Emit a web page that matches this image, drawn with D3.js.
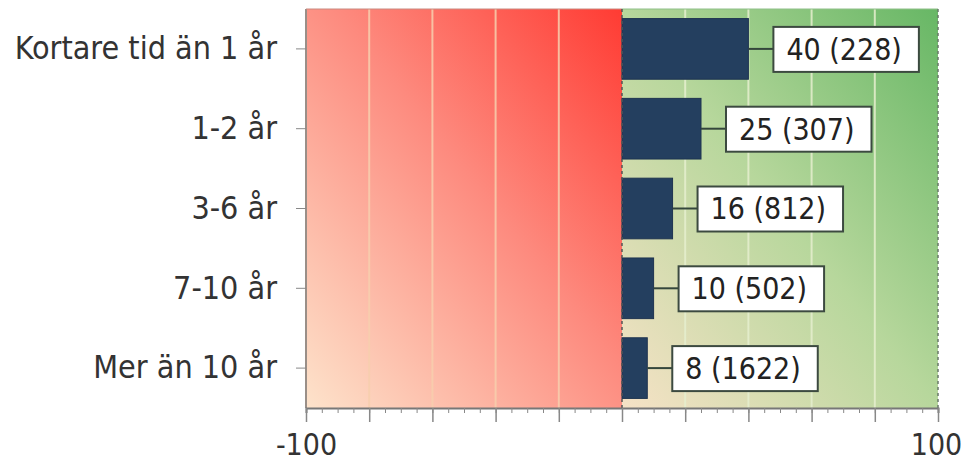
<!DOCTYPE html>
<html>
<head>
<meta charset="utf-8">
<script src="https://cdn.jsdelivr.net/npm/d3@7"></script>
<style>
body { margin: 0; background: #fff; }
svg { font-family: "DejaVu Sans Condensed", "DejaVu Sans", sans-serif; }
</style>
</head>
<body>
<div id="chart"></div>
<script>
//
// horizontal bar chart with red/green backdrop
//

var categories = ["Kortare tid än 1 år", "1-2 år", "3-6 år", "7-10 år", "Mer än 10 år"];
var values = [40, 25, 16, 10, 8];
var counts = [228, 307, 812, 502, 1622];
var xTickLabels = [-100, 100];

var width = 966;
var height = 463;
var marginLeft = 306;
var marginRight = 28;
var marginTop = 9;
var marginBottom = 55;

var svg = d3.select("#chart")
    .append("svg")
    .attr("width", width)
    .attr("height", height);

var x = d3.scaleLinear().domain([-100, 100]).range([marginLeft, width - marginRight]);
var y = d3.scaleBand().domain(categories).range([marginTop, height - marginBottom]).paddingInner(0.24).paddingOuter(0.12);
var yBand = d3.scaleBand().domain(categories).range([marginTop, height - marginBottom]);

var plotTop = marginTop, plotBottom = height - marginBottom;

var defs = svg.append("defs");
var redGrad = defs.append("linearGradient").attr("id", "redGrad")
    .attr("x1", "0%").attr("y1", "100%").attr("x2", "100%").attr("y2", "0%");
redGrad.append("stop").attr("offset", "0%").attr("stop-color", "#fde3cb");
redGrad.append("stop").attr("offset", "55%").attr("stop-color", "#fd8a7e");
redGrad.append("stop").attr("offset", "100%").attr("stop-color", "#ff3b33");

var greenGrad = defs.append("linearGradient").attr("id", "greenGrad")
    .attr("x1", "0%").attr("y1", "100%").attr("x2", "100%").attr("y2", "0%");
greenGrad.append("stop").attr("offset", "0%").attr("stop-color", "#f6e2c6");
greenGrad.append("stop").attr("offset", "50%").attr("stop-color", "#b7d79c");
greenGrad.append("stop").attr("offset", "100%").attr("stop-color", "#67b765");

// backdrop
svg.append("rect")
    .attr("x", x(-100)).attr("y", plotTop)
    .attr("width", x(0) - x(-100)).attr("height", plotBottom - plotTop)
    .attr("fill", "url(#redGrad)");
svg.append("rect")
    .attr("x", x(0)).attr("y", plotTop)
    .attr("width", x(100) - x(0)).attr("height", plotBottom - plotTop)
    .attr("fill", "url(#greenGrad)");

// gridlines
var gridTicks = d3.range(-80, 100, 20).filter(function (d) { return d != 0; });
svg.selectAll(".grid")
    .data(gridTicks)
    .enter().append("line")
    .attr("x1", function (d) { return x(d); })
    .attr("x2", function (d) { return x(d); })
    .attr("y1", plotTop)
    .attr("y2", plotBottom)
    .attr("stroke", function (d) { return d < 0 ? "#f8cfae" : "#e6efcf"; })
    .attr("stroke-width", 2)
    .attr("opacity", 0.85);

// borders
svg.append("line").attr("x1", x(-100)).attr("x2", x(-100)).attr("y1", plotTop).attr("y2", plotBottom)
    .attr("stroke", "#9a8f88").attr("stroke-width", 2);
svg.append("line").attr("x1", x(-100)).attr("x2", x(0)).attr("y1", plotTop).attr("y2", plotTop)
    .attr("stroke", "#c98a80").attr("stroke-width", 1);
svg.append("line").attr("x1", x(0)).attr("x2", x(100)).attr("y1", plotTop).attr("y2", plotTop)
    .attr("stroke", "#8fbf88").attr("stroke-width", 1);
svg.append("line").attr("x1", x(100)).attr("x2", x(100)).attr("y1", plotTop).attr("y2", plotBottom)
    .attr("stroke", "#6a7a6a").attr("stroke-width", 1.5).attr("stroke-dasharray", "3,3");

// bars
svg.selectAll(".bar")
    .data(values)
    .enter().append("rect")
    .attr("x", x(0))
    .attr("y", function (d, i) { return y(categories[i]); })
    .attr("width", function (d) { return x(d) - x(0); })
    .attr("height", y.bandwidth())
    .attr("fill", "#243f5f")
    .attr("stroke", "#1f3450")
    .attr("stroke-width", 1);

// zero line
svg.append("line").attr("x1", x(0)).attr("x2", x(0)).attr("y1", plotTop).attr("y2", plotBottom)
    .attr("stroke", "#555").attr("stroke-width", 1.5).attr("stroke-dasharray", "3,3");

// labels with boxes
var fontSize = 30;
var labels = svg.selectAll(".lbl")
    .data(values)
    .enter().append("g")
    .attr("transform", function (d, i) {
        return "translate(" + x(d) + "," + (yBand(categories[i]) + yBand.bandwidth() / 2) + ")";
    });

labels.each(function (d, i) {
    var g = d3.select(this);
    var txt = g.append("text")
        .attr("x", 38)
        .attr("dy", "0.36em")
        .style("font-size", fontSize + "px")
        .attr("fill", "#222")
        .text(d + " (" + counts[i] + ")");
    var w = txt.node().getComputedTextLength();
    g.insert("rect", "text")
        .attr("x", 25).attr("y", -22)
        .attr("width", w + 30).attr("height", 45)
        .attr("fill", "#fff")
        .attr("stroke", "#3c4a40")
        .attr("stroke-width", 2);
    g.insert("line", "rect")
        .attr("x1", 0).attr("x2", 25).attr("y1", 0).attr("y2", 0)
        .attr("stroke", "#34463c").attr("stroke-width", 2);
});

// y axis labels and ticks
var yAxis = d3.axisLeft(yBand).tickSize(10).tickPadding(19);
var yG = svg.append("g")
    .attr("transform", "translate(" + x(-100) + ",0)")
    .call(yAxis);
yG.select(".domain").remove();
yG.selectAll(".tick line").attr("stroke", "#888");
yG.selectAll(".tick text")
    .style("font-size", "32px")
    .attr("fill", "#333")
    .style("font-family", "'DejaVu Sans Condensed', 'DejaVu Sans', sans-serif");

// x axis
var xAxisMinor = d3.axisBottom(x).tickValues(d3.range(-100, 101, 5)).tickSize(5).tickFormat("");
var xMinorG = svg.append("g").attr("transform", "translate(0," + plotBottom + ")").call(xAxisMinor);
xMinorG.select(".domain").attr("stroke", "#777").attr("stroke-width", 2);
xMinorG.selectAll(".tick line").attr("stroke", "#888");

var xAxisMajor = d3.axisBottom(x).tickValues(d3.range(-100, 101, 20)).tickSize(14).tickFormat("");
var xMajorG = svg.append("g").attr("transform", "translate(0," + plotBottom + ")").call(xAxisMajor);
xMajorG.select(".domain").remove();
xMajorG.selectAll(".tick line").attr("stroke", "#888").attr("stroke-width", 1.5);

var xLabelAxis = d3.axisBottom(x).tickValues(xTickLabels).tickSize(0).tickPadding(26)
    .tickFormat(function (d) { return d < 0 ? "-" + Math.abs(d) : d; });
var xLabG = svg.append("g").attr("transform", "translate(0," + plotBottom + ")").call(xLabelAxis);
xLabG.select(".domain").remove();
xLabG.selectAll(".tick text")
    .style("font-size", "30px")
    .attr("fill", "#333")
    .attr("dx", function (d) { return d > 0 ? -2 : 0; })
    .style("font-family", "'DejaVu Sans Condensed', 'DejaVu Sans', sans-serif");
</script>
</body>
</html>
